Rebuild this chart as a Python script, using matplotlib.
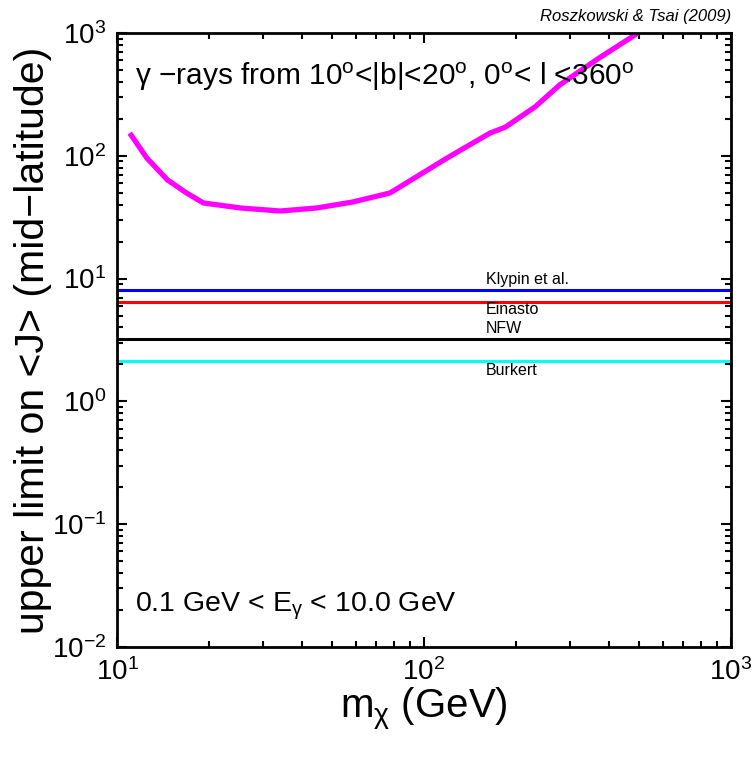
import matplotlib
matplotlib.use('Agg')
import matplotlib.pyplot as plt
from matplotlib.ticker import LogLocator, LogFormatterMathtext, NullFormatter

plt.rcParams['font.family'] = ['Liberation Sans', 'DejaVu Sans']
plt.rcParams['mathtext.fontset'] = 'custom'
plt.rcParams['mathtext.rm'] = 'Liberation Sans'
plt.rcParams['mathtext.it'] = 'Liberation Sans:italic'
plt.rcParams['mathtext.default'] = 'regular'

# upper limit curve (magenta)
mass = [11.0, 12.5, 14.6, 16.8, 19.1, 25.2, 34.0, 44.8, 58.7, 77.5, 95, 119, 164, 184, 230, 277, 370, 498]
jlim = [153, 96, 63.6, 50, 41.3, 37.6, 35.5, 37.6, 42.1, 49.8, 68, 96, 153, 171, 250, 378, 620, 1000]

# halo profile <J> values (flat lines)
profiles = ['Klypin et al.', 'Einasto', 'NFW', 'Burkert']
jvals = [8.07, 6.44, 3.22, 2.13]
colors = ['#0000ff', '#ff0000', '#000000', '#00ffff']
label_y = [9.75, 5.55, 3.96, 1.77]

fig = plt.figure(figsize=(7.52, 7.58), dpi=100)
ax = fig.add_axes([0.1556, 0.1464, 0.8164, 0.8101])

ax.plot(mass, jlim, color='#ff00ff', lw=3.8, solid_capstyle='butt')
for name, j, c, ly in zip(profiles, jvals, colors, label_y):
    ax.plot([10, 1000], [j, j], color=c, lw=2.2)
    ax.text(159, ly, name, fontsize=11.5, va='center', ha='left')

ax.set_xscale('log')
ax.set_yscale('log')
ax.set_xlim(10, 1000)
ax.set_ylim(1e-2, 1e3)

ax.xaxis.set_major_locator(LogLocator(base=10))
ax.yaxis.set_major_locator(LogLocator(base=10))
ax.xaxis.set_minor_locator(LogLocator(base=10, subs=range(2, 10)))
ax.yaxis.set_minor_locator(LogLocator(base=10, subs=range(2, 10)))
ax.xaxis.set_major_formatter(LogFormatterMathtext())
ax.yaxis.set_major_formatter(LogFormatterMathtext())
ax.xaxis.set_minor_formatter(NullFormatter())
ax.yaxis.set_minor_formatter(NullFormatter())

ax.tick_params(which='both', direction='in', top=True, right=True, width=1.5)
ax.tick_params(which='major', length=7, labelsize=20, pad=8)
ax.tick_params(which='minor', length=4)
for s in ax.spines.values():
    s.set_linewidth(2)

ax.set_xlabel(r'm$_\chi$ (GeV)', fontsize=29, labelpad=0)
ax.set_ylabel('upper limit on <J> (mid\u2212latitude)', fontsize=29.5, labelpad=0)

ax.text(0.03, 0.955, '$\\gamma$ \u2212rays from 10$^o$<|b|<20$^o$, 0$^o$< l <360$^o$',
        transform=ax.transAxes, fontsize=21.5, va='top', ha='left')
ax.text(0.03, 0.04, r'0.1 GeV < E$_\gamma$ < 10.0 GeV',
        transform=ax.transAxes, fontsize=20.5, va='bottom', ha='left')
fig.text(0.972, 0.988, 'Roszkowski & Tsai (2009)', fontsize=12,
         style='italic', ha='right', va='top')

fig.savefig('out.png', dpi=100)
